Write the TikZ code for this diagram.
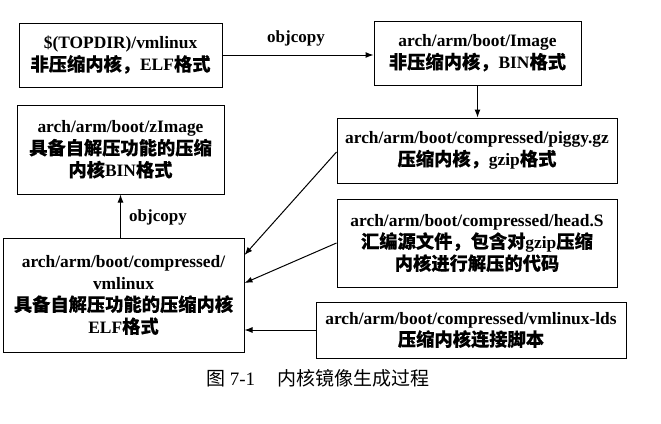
\documentclass[tikz,border=0pt]{standalone}
\usepackage{fontspec}
\setmainfont{Liberation Serif}
\newfontfamily\cjk{Noto Sans CJK SC}[Scale=1.05,FakeBold=0.15]
\newfontfamily\cjkcap{Noto Sans CJK SC}
\usetikzlibrary{arrows.meta}
\begin{document}
\begin{tikzpicture}[x=1pt,y=-1pt,
  box/.style={draw,line width=1pt,align=center,inner sep=0pt,
    font=\fontsize{17.4}{22}\selectfont\bfseries},
  arr/.style={line width=1pt,-{Latex[length=8pt,width=6pt]}},
  lbl/.style={font=\fontsize{17}{20}\selectfont\bfseries}]
\useasboundingbox (0,0) rectangle (661,423);
\node[box,minimum width=203pt,minimum height=64pt] (b1) at (120.5,55)
  {\$(TOPDIR)/vmlinux\\{\cjk 非压缩内核，}ELF{\cjk 格式}};
\node[box,minimum width=207pt,minimum height=64pt] (b2) at (477.5,53)
  {arch/arm/boot/Image\\{\cjk 非压缩内核，}BIN{\cjk 格式}};
\node[box,minimum width=280pt,minimum height=65pt] (b3) at (477,150.5)
  {arch/arm/boot/compressed/piggy.gz\\{\cjk 压缩内核，}gzip{\cjk 格式}};
\node[box,minimum width=280pt,minimum height=88pt] (b4) at (477,243)
  {arch/arm/boot/compressed/head.S\\{\cjk 汇编源文件，包含对}gzip{\cjk 压缩}\\{\cjk 内核进行解压的代码}};
\node[box,minimum width=310pt,minimum height=56pt] (b5) at (471,330)
  {arch/arm/boot/compressed/vmlinux-lds\\{\cjk 压缩内核连接脚本}};
\node[box,minimum width=207pt,minimum height=89pt] (b6) at (120.5,149.5)
  {arch/arm/boot/zImage\\{\cjk 具备自解压功能的压缩}\\{\cjk 内核}BIN{\cjk 格式}};
\node[box,minimum width=241pt,minimum height=114pt] (b7) at (123.5,295)
  {arch/arm/boot/compressed/\\vmlinux\\{\cjk 具备自解压功能的压缩内核}\\ELF{\cjk 格式}};
\draw[arr] (b1.east) -- (b1.east -| b2.west);
\node[lbl] (l1) at (296,38) {objcopy};
\draw[arr] (b2.south |- b2.south) -- (b2.south |- b3.north);
\draw[arr] (b6.south |- b7.north) -- (b6.south);
\node[lbl] (l2) at (158,217) {objcopy};
\draw[arr] ([yshift=-1.5pt]b3.west) -- ([yshift=40pt]b7.east);
\draw[arr] (b4.west) -- ([yshift=12pt]b7.east);
\draw[arr] (b5.west) -- (b5.west -| b7.east);
\node[font=\fontsize{19}{22}\selectfont] (cap) at (318,378)
  {{\cjkcap 图} 7-1\hspace{1.2em}{\cjkcap 内核镜像生成过程}};
\end{tikzpicture}
\end{document}
